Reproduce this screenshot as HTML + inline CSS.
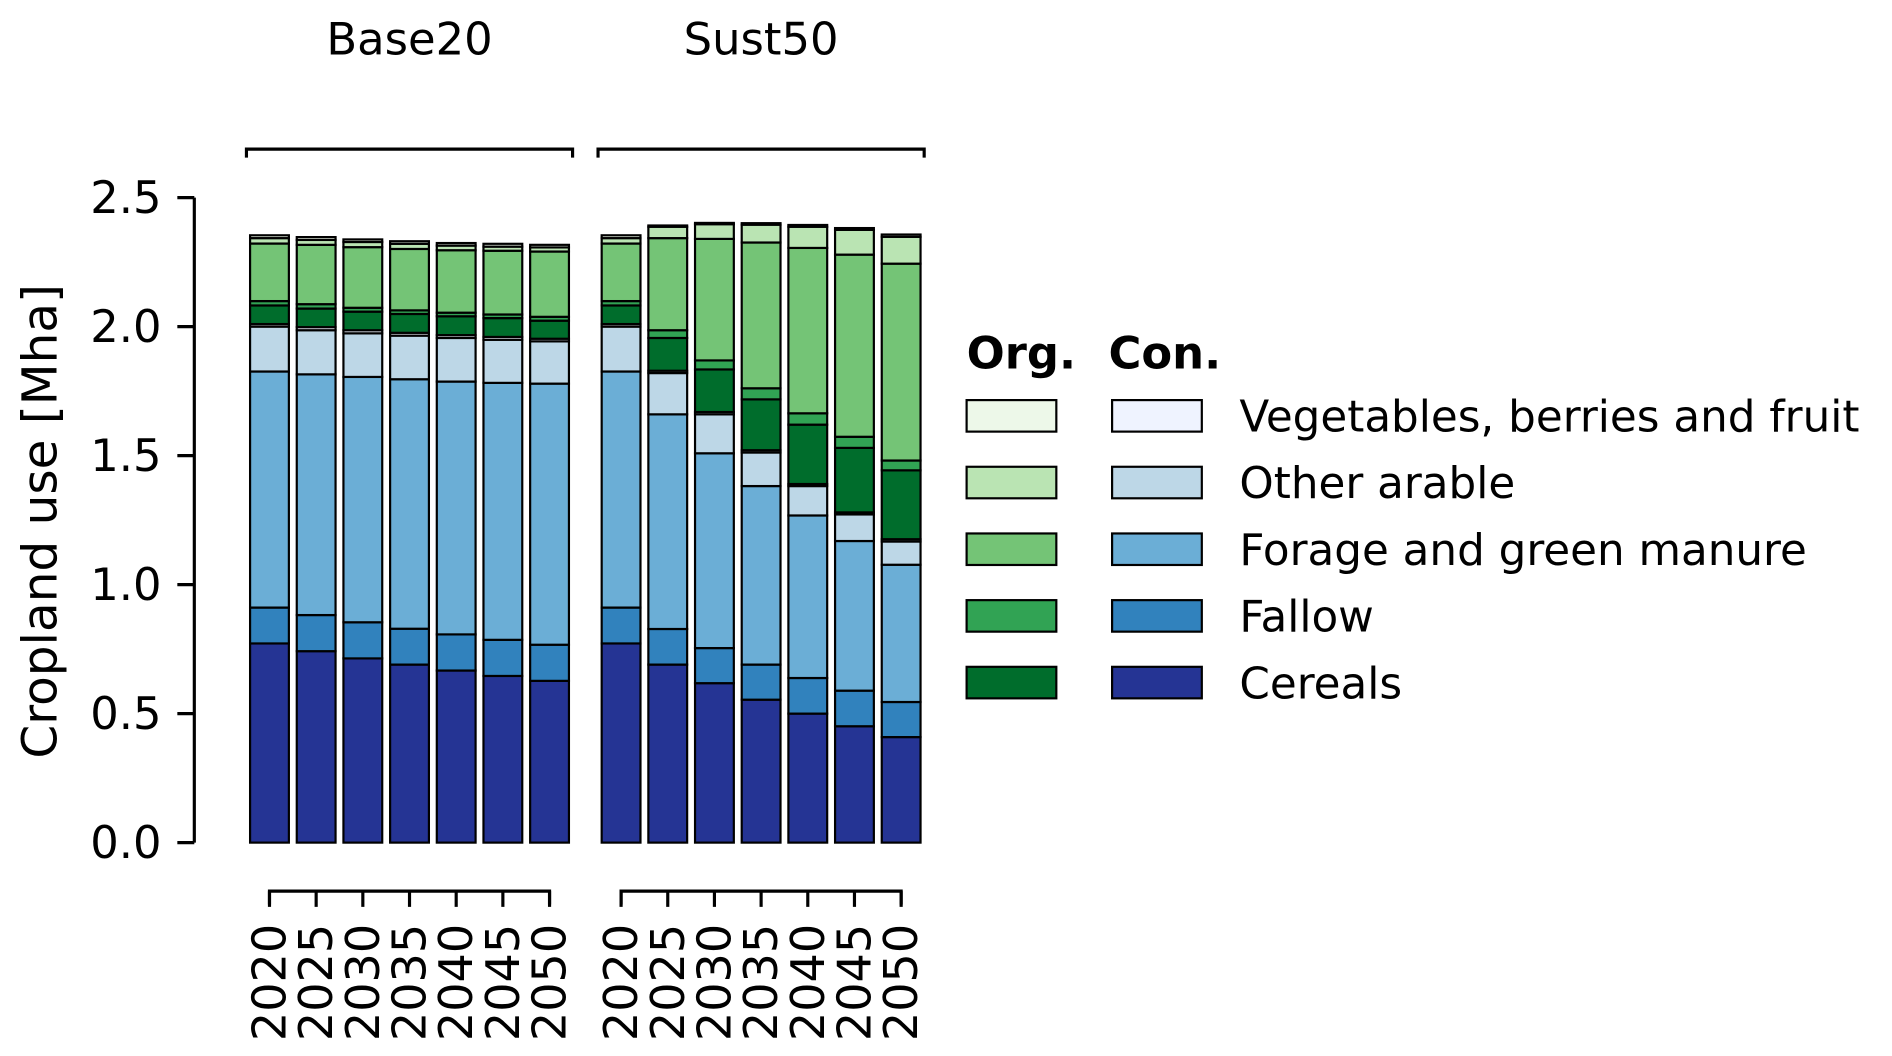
<!DOCTYPE html>
<html><head><meta charset="utf-8"><style>
html,body{margin:0;padding:0;background:#fff;}
svg{display:block;font-family:"DejaVu Sans","Liberation Sans",sans-serif;}
</style></head><body>
<svg id="chart" width="1892" height="1056" viewBox="0 0 1560 871" xmlns="http://www.w3.org/2000/svg">
<g id="g"></g>
</svg>
<script>
const years = ["2020","2025","2030","2035","2040","2045","2050"];
const scenarios = ["Base20","Sust50"];
const yTicks = [0,0.5,1.0,1.5,2.0,2.5];
const yTickLabels = ["0.0","0.5","1.0","1.5","2.0","2.5"];
const seriesNames = ["Con. Cereals","Con. Fallow","Con. Forage","Con. Other","Con. Veg","Org. Cereals","Org. Fallow","Org. Forage","Org. Other","Org. Veg"];
const seriesColors = ["#253494","#3182bd","#6baed6","#bdd7e7","#eff3ff","#006d2c","#31a354","#74c476","#bae4b3","#edf8e9"];
const base20ConCereals = [.772,.742,.714,.690,.667,.646,.627];
const base20ConFallow  = [.139,.140,.140,.139,.140,.140,.140];
const base20ConForage  = [.915,.933,.951,.967,.980,.996,1.012];
const base20ConOther   = [.174,.171,.169,.169,.169,.167,.164];
const base20ConVeg     = [.010,.012,.012,.011,.011,.011,.010];
const base20OrgCereals = [.072,.072,.072,.073,.073,.073,.070];
const base20OrgFallow  = [.017,.017,.015,.014,.014,.014,.015];
const base20OrgForage  = [.223,.230,.235,.238,.242,.247,.253];
const base20OrgOther   = [.021,.019,.020,.020,.018,.016,.016];
const base20OrgVeg     = [.011,.011,.010,.010,.010,.011,.010];
const sust50ConCereals = [.772,.690,.618,.554,.500,.451,.409];
const sust50ConFallow  = [.139,.138,.136,.136,.138,.138,.136];
const sust50ConForage  = [.915,.832,.755,.692,.630,.580,.532];
const sust50ConOther   = [.174,.160,.151,.130,.114,.103,.090];
const sust50ConVeg     = [.010,.009,.009,.009,.008,.008,.009];
const sust50OrgCereals = [.072,.127,.165,.197,.230,.250,.267];
const sust50OrgFallow  = [.017,.030,.035,.043,.044,.043,.038];
const sust50OrgForage  = [.223,.357,.471,.565,.641,.706,.763];
const sust50OrgOther   = [.021,.044,.057,.069,.082,.096,.104];
const sust50OrgVeg     = [.011,.005,.005,.006,.007,.007,.009];
const legendOrgLabels = ["Vegetables, berries and fruit","Other arable","Forage and green manure","Fallow","Cereals"];

const seriesByScenario = [
 [base20ConCereals,base20ConFallow,base20ConForage,base20ConOther,base20ConVeg,base20OrgCereals,base20OrgFallow,base20OrgForage,base20OrgOther,base20OrgVeg],
 [sust50ConCereals,sust50ConFallow,sust50ConForage,sust50ConOther,sust50ConVeg,sust50OrgCereals,sust50OrgFallow,sust50OrgForage,sust50OrgOther,sust50OrgVeg]
];
const NS="http://www.w3.org/2000/svg";
const g=document.getElementById('g');
function mk(tag,attrs,parent){const e=document.createElementNS(NS,tag);for(const k in attrs)e.setAttribute(k,attrs[k]);(parent||g).appendChild(e);return e;}
const y0=695, pxPerUnit=212.8;
function yScale(v){return y0 - v*pxPerUnit;}
const groupStart=[222,512], step=38.5, barW=32;
function xScale(s,i){return groupStart[s]+i*step;}

let ax=mk('line',{x1:160,y1:yScale(2.5),x2:160,y2:y0,stroke:'#000','stroke-width':2.6});


yTicks.forEach((t,i)=>{
  let tk=mk('line',{x1:146,x2:160,y1:yScale(t),y2:yScale(t),stroke:'#000','stroke-width':2.6});
  
  
  let tl=mk('text',{x:133,y:yScale(t),'text-anchor':'end','dominant-baseline':'central','font-size':37});
  tl.textContent=yTickLabels[i];
  
  
});
let yt=mk('text',{x:0,y:0,'text-anchor':'middle','dominant-baseline':'central','font-size':40,transform:'translate(33,430) rotate(-90)'});
yt.textContent='Cropland use [Mha]';



scenarios.forEach((sc,s)=>{
  const ser=seriesByScenario[s];
  years.forEach((yr,i)=>{
    let cum=0;
    ser.forEach((arr,k)=>{
      const v=arr[i];
      const r=mk('rect',{x:xScale(s,i)-barW/2,y:yScale(cum+v),width:barW,height:v*pxPerUnit,fill:seriesColors[k],stroke:'#000','stroke-width':1.8});
      
      
      cum+=v;
    });
  });
  const xa=xScale(s,0), xb=xScale(s,years.length-1);
  let bl=mk('path',{d:`M${xa},746 L${xa},735 L${xb},735 L${xb},746`,fill:'none',stroke:'#000','stroke-width':2.6});
  
  
  years.forEach((yr,i)=>{
    const x=xScale(s,i);
    let tk=mk('line',{x1:x,x2:x,y1:735,y2:748,stroke:'#000','stroke-width':2.6});
    
    
    let tl=mk('text',{x:0,y:0,'text-anchor':'end','dominant-baseline':'central','font-size':38,transform:`translate(${x},762) rotate(-90)`});
    tl.textContent=yr;
    
    
  });
  const bx1=xa-19, bx2=xb+19;
  let br=mk('path',{d:`M${bx1},130 L${bx1},123 L${bx2},123 L${bx2},130`,fill:'none',stroke:'#000','stroke-width':2.6});
  
  
  let st=mk('text',{x:(xa+xb)/2,y:32,'text-anchor':'middle','dominant-baseline':'central','font-size':37});
  st.textContent=sc;
  
  
});

let lo=mk('text',{x:797,y:291,'dominant-baseline':'central','font-size':37,'font-weight':'bold'});
lo.textContent='Org.';


let lc=mk('text',{x:914,y:291,'dominant-baseline':'central','font-size':37,'font-weight':'bold'});
lc.textContent='Con.';


legendOrgLabels.forEach((lab,r)=>{
  const cy=343+r*55;
  const idx=4-r;
  let b1=mk('rect',{x:797,y:cy-13,width:74,height:26,fill:seriesColors[5+idx],stroke:'#000','stroke-width':1.8});
  
  
  let b2=mk('rect',{x:917,y:cy-13,width:74,height:26,fill:seriesColors[idx],stroke:'#000','stroke-width':1.8});
  
  
  let t=mk('text',{x:1022,y:cy+1,'dominant-baseline':'central','font-size':36});
  t.textContent=lab;
  
  
});
</script>
</body></html>
